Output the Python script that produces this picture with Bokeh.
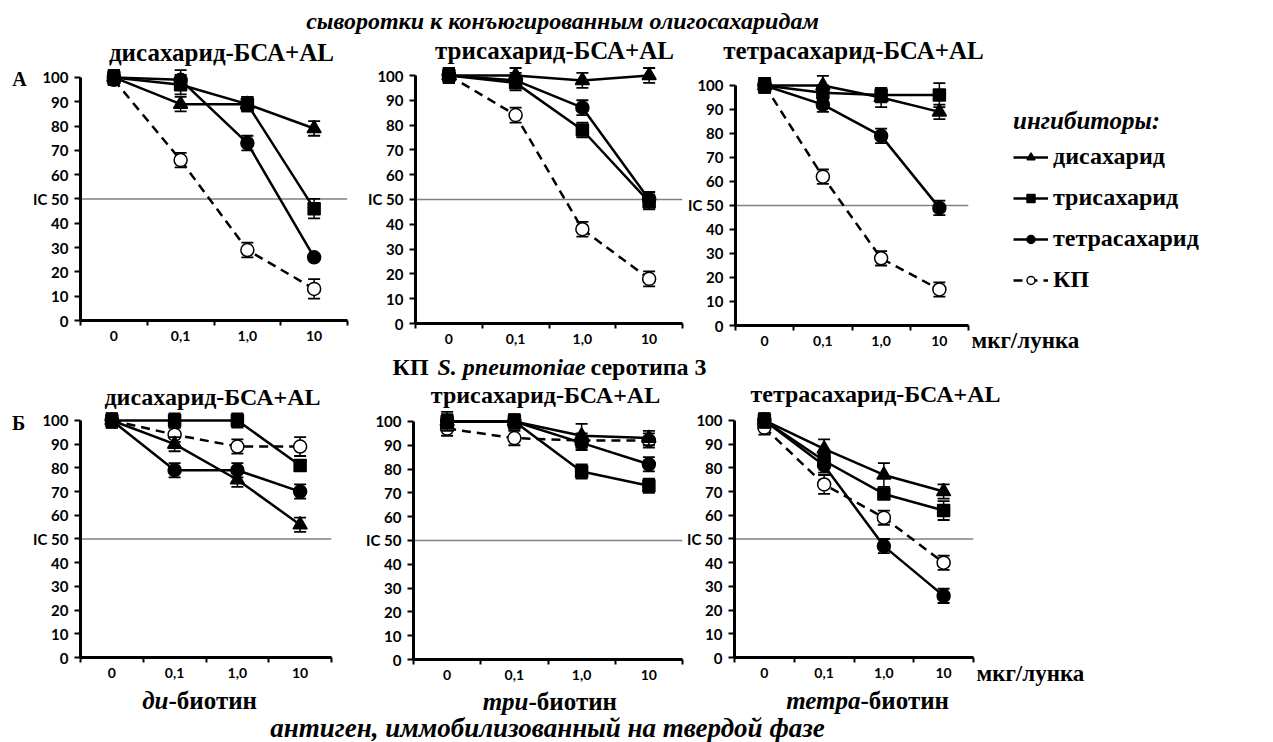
from bokeh.plotting import figure
from bokeh.models import (Range1d, LinearAxis, FixedTicker,
                          Span, ColumnDataSource, Label, Legend, LegendItem)
from bokeh.layouts import column, row
from bokeh.embed import file_html
from bokeh.resources import INLINE

# ---------------- data ----------------
doses = ["0", "0,1", "1,0", "10"]
series_names = ["дисахарид", "трисахарид", "тетрасахарид", "КП"]
y_ticks = [0, 10, 20, 30, 40, 50, 60, 70, 80, 90, 100]
ic_level = 50

# A: sera to conjugated oligosaccharides (inhibition, %)
a1_di = [100, 89, 89, 79];   a1_di_err = [3, 3, 3, 3]
a1_tri = [100, 97, 89, 46];  a1_tri_err = [3, 4, 3, 4]
a1_tetra = [100, 99, 73, 26]; a1_tetra_err = [3, 4, 3, 1]
a1_kp = [99, 66, 29, 13];    a1_kp_err = [2, 3, 3, 4]

a2_di = [100, 100, 98, 100]; a2_di_err = [3, 3, 3, 3]
a2_tri = [100, 97, 78, 49];  a2_tri_err = [3, 3, 3, 3]
a2_tetra = [100, 98, 87, 50]; a2_tetra_err = [3, 3, 3, 3]
a2_kp = [100, 84, 38, 18];   a2_kp_err = [2, 3, 3, 3]

a3_di = [100, 100, 95, 89];  a3_di_err = [3, 4, 4, 3]
a3_tri = [100, 97, 96, 96];  a3_tri_err = [3, 3, 3, 5]
a3_tetra = [100, 92, 79, 49]; a3_tetra_err = [3, 3, 3, 3]
a3_kp = [100, 62, 28, 15];   a3_kp_err = [3, 3, 3, 3]

# Б: biotinylated antigens on solid phase
b1_di = [100, 90, 75, 56];   b1_di_err = [3, 3, 3, 3]
b1_tri = [100, 100, 100, 81]; b1_tri_err = [3, 3, 3, 2]
b1_tetra = [100, 79, 79, 70]; b1_tetra_err = [3, 3, 3, 3]
b1_kp = [100, 94, 89, 89];   b1_kp_err = [2, 3, 3, 4]

b2_di = [100, 100, 94, 93];  b2_di_err = [3, 3, 5, 3]
b2_tri = [100, 100, 79, 73]; b2_tri_err = [4, 3, 3, 3]
b2_tetra = [100, 100, 91, 82]; b2_tetra_err = [3, 3, 3, 3]
b2_kp = [97, 93, 92, 92];    b2_kp_err = [3, 3, 3, 3]

b3_di = [100, 88, 77, 70];   b3_di_err = [3, 4, 5, 3]
b3_tri = [100, 83, 69, 62];  b3_tri_err = [3, 3, 2, 4]
b3_tetra = [100, 81, 47, 26]; b3_tetra_err = [3, 3, 3, 3]
b3_kp = [97, 73, 59, 40];    b3_kp_err = [3, 4, 3, 3]

# category slots on the x axis (one unit per dose, label in the middle of the slot)
slot_centers = [i + 0.5 for i in range(len(doses))]
slot_edges = list(range(len(doses) + 1))

# ---------------- style ----------------
SERIF = "Liberation Serif"
SANS = "Lato"
styles = {
    "дисахарид": dict(marker="triangle", size=14, fill="black", dash="solid"),
    "трисахарид": dict(marker="square", size=12, fill="black", dash="solid"),
    "тетрасахарид": dict(marker="circle", size=13, fill="black", dash="solid"),
    "КП": dict(marker="circle", size=13, fill="white", dash="9 6"),
}
draw_order = ["КП", "дисахарид", "трисахарид", "тетрасахарид"]


def make_panel(fig_w, fig_h, mbl, mbr, mbb, y_top, data):
    p = figure(width=fig_w, height=fig_h,
               x_range=Range1d(0, len(doses)),
               y_range=Range1d(0, y_top), toolbar_location=None, output_backend="svg",
               x_axis_location=None, y_axis_location=None, title=None,
               min_border_left=mbl, min_border_right=mbr, min_border_top=0, min_border_bottom=mbb)
    p.outline_line_color = None
    p.grid.visible = False
    p.background_fill_color = "white"
    p.border_fill_color = "white"

    x_axis = LinearAxis(ticker=FixedTicker(ticks=slot_centers, minor_ticks=slot_edges),
                        major_label_overrides={c: d for c, d in zip(slot_centers, doses)},
                        axis_line_width=3, axis_line_color="black",
                        major_tick_out=0, major_tick_in=0,
                        minor_tick_out=5, minor_tick_in=0, minor_tick_line_width=2,
                        minor_tick_line_color="black",
                        major_label_text_font=SANS, major_label_text_font_style="bold",
                        major_label_text_font_size="14px", major_label_standoff=5,
                        major_label_text_color="black")
    p.add_layout(x_axis, "below")
    y_axis = LinearAxis(ticker=FixedTicker(ticks=y_ticks), bounds=(0, 100),
                        major_label_overrides={ic_level: "IC " + str(ic_level)},
                        axis_line_width=3, axis_line_color="black",
                        major_tick_out=6, major_tick_in=0, major_tick_line_width=2,
                        minor_tick_out=0, minor_tick_in=0,
                        major_label_text_font=SANS, major_label_text_font_style="bold",
                        major_label_text_font_size="15px", major_label_standoff=6,
                        major_label_text_color="black")
    p.add_layout(y_axis, "left")

    p.add_layout(Span(location=ic_level, dimension="width", line_color="#808080",
                      line_width=1.5, level="underlay"))

    for name in draw_order:
        vals, errs = data[name]
        st = styles[name]
        src = ColumnDataSource(dict(x=slot_centers, y=vals,
                                    lo=[v - e for v, e in zip(vals, errs)],
                                    hi=[v + e for v, e in zip(vals, errs)]))
        p.segment(x0="x", y0="lo", x1="x", y1="hi", source=src, line_color="black", line_width=1.5)
        p.scatter(x="x", y="hi", marker="dash", size=12, line_color="black", line_width=1.8, source=src)
        p.scatter(x="x", y="lo", marker="dash", size=12, line_color="black", line_width=1.8, source=src)
        p.line(x="x", y="y", source=src, line_color="black", line_width=2.5, line_dash=st["dash"])
        p.scatter(x="x", y="y", marker=st["marker"], size=st["size"], fill_color=st["fill"],
                  line_color="black", line_width=1.5, source=src)
    return p


# ---------------- text-only strips (page coordinates) ----------------
def text_fig(x0, x1, y0, y1):
    f = figure(width=x1 - x0, height=y1 - y0, x_range=Range1d(x0, x1), y_range=Range1d(y1, y0),
               toolbar_location=None, output_backend="svg", x_axis_location=None,
               y_axis_location=None, title=None, min_border=0)
    f.outline_line_color = None
    f.grid.visible = False
    return f


def tlabel(f, x, y, text, size, style="bold", align="center"):
    f.add_layout(Label(x=x, y=y, text=text, text_font=SERIF, text_font_style=style,
                       text_font_size=f"{size}px", text_align=align, text_baseline="middle",
                       text_color="black"))


def solo(*items):
    # each child in its own column so the row does not equalise plot borders
    return row(*[column(it) for it in items])


# top strip: figure caption + titles of row А
T1 = text_fig(0, 1273, 0, 66)
tlabel(T1, 562, 20, "сыворотки к конъюгированным олигосахаридам", 24, "bold italic")
tlabel(T1, 221, 52, "дисахарид-БСА+AL", 25)
tlabel(T1, 554, 50, "трисахарид-БСА+AL", 25)
tlabel(T1, 853, 50, "тетрасахарид-БСА+AL", 25)

# row А  (page y 66..353)
L1 = text_fig(0, 30, 66, 353)
tlabel(L1, 19, 78, "А", 20)

A1 = make_panel(328, 287, 50, 11, 33, 104.5, {
    "дисахарид": (a1_di, a1_di_err), "трисахарид": (a1_tri, a1_tri_err),
    "тетрасахарид": (a1_tetra, a1_tetra_err), "КП": (a1_kp, a1_kp_err)})
A2 = make_panel(326, 287, 57, 2, 30, 103.6, {
    "дисахарид": (a2_di, a2_di_err), "трисахарид": (a2_tri, a2_tri_err),
    "тетрасахарид": (a2_tetra, a2_tetra_err), "КП": (a2_kp, a2_kp_err)})
A3 = make_panel(286, 287, 51, 2, 28, 107.9, {
    "дисахарид": (a3_di, a3_di_err), "трисахарид": (a3_tri, a3_tri_err),
    "тетрасахарид": (a3_tetra, a3_tetra_err), "КП": (a3_kp, a3_kp_err)})

R1 = text_fig(970, 1273, 66, 353)
tlabel(R1, 971, 340, "мкг/лунка", 23, align="left")
legend_items = []
for name in series_names:
    st = styles[name]
    ln = R1.line(x=[float("nan")], y=[float("nan")], line_color="black", line_width=2.5,
                 line_dash=st["dash"])
    mk = R1.scatter(x=[float("nan")], y=[float("nan")], marker=st["marker"], size=st["size"],
                    fill_color=st["fill"], line_color="black", line_width=1.5)
    legend_items.append(LegendItem(label=name, renderers=[ln, mk]))
legend = Legend(items=legend_items, location=(43, 60), title="ингибиторы:",
                title_text_font=SERIF, title_text_font_style="bold italic", title_text_font_size="25px",
                title_text_color="black",
                label_text_font=SERIF, label_text_font_style="bold", label_text_font_size="24px",
                label_text_color="black",
                glyph_width=35, glyph_height=20, label_height=20, spacing=14, padding=0, margin=0,
                label_standoff=5, title_standoff=8, border_line_color=None,
                background_fill_alpha=0)
R1.add_layout(legend)

# middle strip: antigen caption + titles of row Б  (page y 353..410)
T2 = text_fig(0, 1273, 353, 410)
tlabel(T2, 392, 366, "КП", 24, "bold", "left")
tlabel(T2, 437, 366, "S. pneumoniae", 24, "bold italic", "left")
tlabel(T2, 590, 366, "серотипа 3", 24, "bold", "left")
tlabel(T2, 212, 396, "дисахарид-БСА+AL", 24)
tlabel(T2, 545, 394, "трисахарид-БСА+AL", 24)
tlabel(T2, 875, 393, "тетрасахарид-БСА+AL", 24)

# row Б  (page y 410..686)
L2 = text_fig(0, 30, 410, 686)
tlabel(L2, 18, 422, "Б", 20)

B1 = make_panel(325, 276, 45, 24, 29, 104.2, {
    "дисахарид": (b1_di, b1_di_err), "трисахарид": (b1_tri, b1_tri_err),
    "тетрасахарид": (b1_tetra, b1_tetra_err), "КП": (b1_kp, b1_kp_err)})
B2 = make_panel(329, 276, 58, 2, 27, 104.6, {
    "дисахарид": (b2_di, b2_di_err), "трисахарид": (b2_tri, b2_tri_err),
    "тетрасахарид": (b2_tetra, b2_tetra_err), "КП": (b2_kp, b2_kp_err)})
B3 = make_panel(291, 276, 49, 2, 29, 104.2, {
    "дисахарид": (b3_di, b3_di_err), "трисахарид": (b3_tri, b3_tri_err),
    "тетрасахарид": (b3_tetra, b3_tetra_err), "КП": (b3_kp, b3_kp_err)})

R2 = text_fig(975, 1273, 410, 686)
tlabel(R2, 976, 673, "мкг/лунка", 23, align="left")

# bottom strip: antigen names + solid-phase caption  (page y 686..742)
T3 = text_fig(0, 1273, 686, 742)
tlabel(T3, 168, 700, "ди", 25, "bold italic", "right")
tlabel(T3, 168, 700, "-биотин", 25, "bold", "left")
tlabel(T3, 528, 701, "три", 25, "bold italic", "right")
tlabel(T3, 528, 701, "-биотин", 25, "bold", "left")
tlabel(T3, 860, 700, "тетра", 25, "bold italic", "right")
tlabel(T3, 860, 700, "-биотин", 25, "bold", "left")
tlabel(T3, 547, 727, "антиген, иммобилизованный на твердой фазе", 27, "bold italic")

layout = column(T1, solo(L1, A1, A2, A3, R1), T2, solo(L2, B1, B2, B3, R2), T3)
open("out.html", "w").write(file_html(layout, INLINE))
